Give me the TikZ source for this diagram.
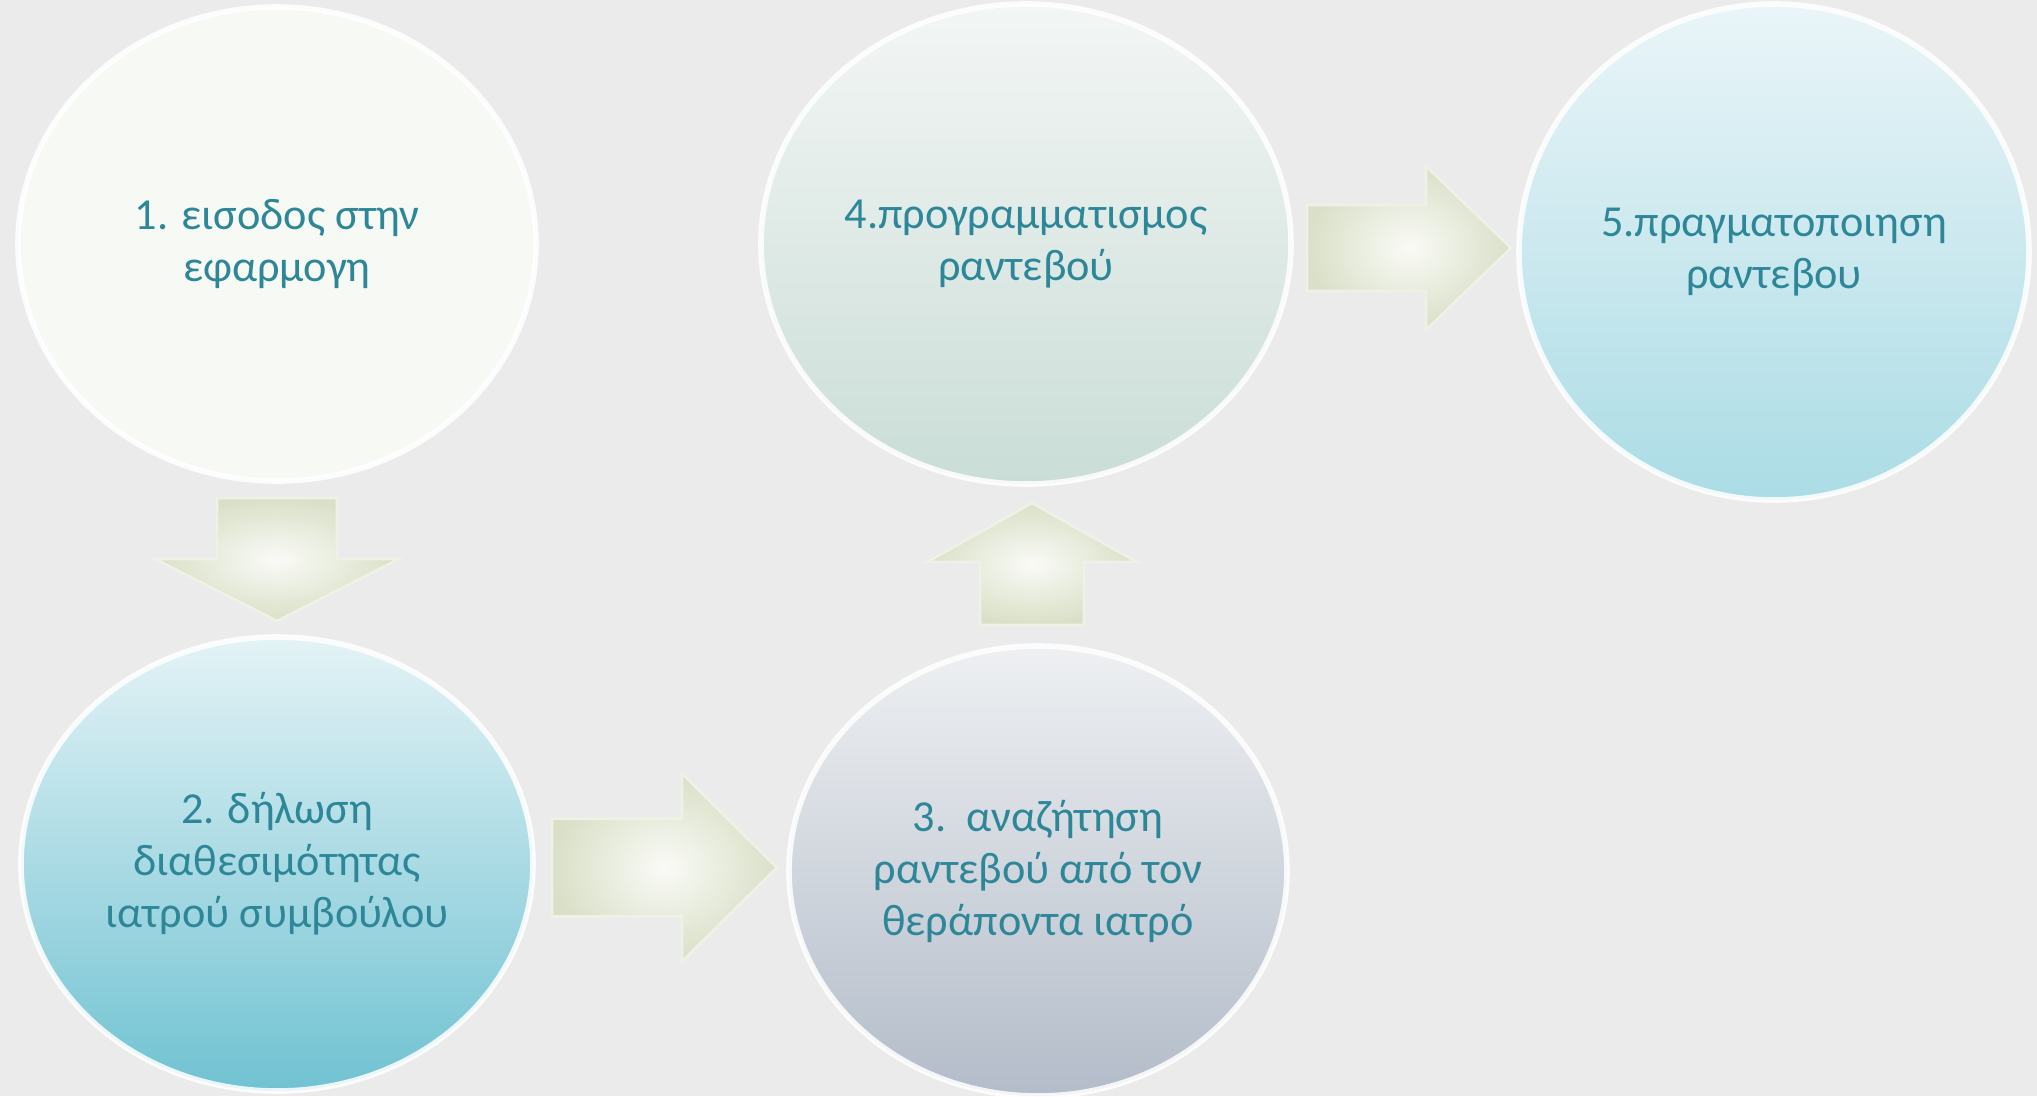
\documentclass[tikz,border=0pt]{standalone}
\usepackage{fontspec}
\setmainfont{Carlito}
\usetikzlibrary{shapes.geometric,calc}

\definecolor{bgcol}{HTML}{EBEBEB}
\definecolor{txtcol}{HTML}{2E8799}
\definecolor{arrowgreen}{HTML}{D9E0C7}
\definecolor{stepone}{HTML}{F7F9F4}
\definecolor{steptwotop}{HTML}{E4F3F6}
\definecolor{steptwobot}{HTML}{70C2D2}
\definecolor{stepthreetop}{HTML}{EEF0F2}
\definecolor{stepthreebot}{HTML}{B3BCC9}
\definecolor{stepfourtop}{HTML}{F3F6F4}
\definecolor{stepfourbot}{HTML}{CADDD7}
\definecolor{stepfivetop}{HTML}{EAF5F8}
\definecolor{stepfivebot}{HTML}{ABDCE5}

\tikzset{
  stepcircle/.style={ellipse, inner sep=0pt, outer sep=0pt, align=center,
    text=txtcol, font=\fontsize{12.6}{14.8}\selectfont,
    draw=white, line width=1.6pt, draw opacity=0.85},
  arrowbody/.style={inner color=white!85!arrowgreen, outer color=arrowgreen,
    draw=white!55!arrowgreen, line width=0.8pt, line join=miter}
}

\begin{document}
\begin{tikzpicture}
\useasboundingbox (0,0) rectangle (20.37,-10.96);
\fill[bgcol] (0,0) rectangle (20.37,-10.96);

\node[stepcircle, minimum width=5.18cm, minimum height=4.74cm, fill=stepone]
  (s1) at (2.77,-2.44) {1. εισοδος στην\\εφαρμογη};
\node[stepcircle, minimum width=5.12cm, minimum height=4.54cm, top color=steptwotop, bottom color=steptwobot]
  (s2) at (2.77,-8.64) {2. δήλωση\\διαθεσιμότητας\\ιατρού συμβούλου};
\node[stepcircle, minimum width=4.98cm, minimum height=4.50cm, top color=stepthreetop, bottom color=stepthreebot]
  (s3) at (10.38,-8.71) {3.\ \ αναζήτηση\\ραντεβού από τον\\θεράποντα ιατρό};
\node[stepcircle, minimum width=5.30cm, minimum height=4.80cm, top color=stepfourtop, bottom color=stepfourbot]
  (s4) at (10.26,-2.44) {4.προγραμματισμος\\ραντεβού};
\node[stepcircle, minimum width=5.10cm, minimum height=4.96cm, top color=stepfivetop, bottom color=stepfivebot]
  (s5) at (17.74,-2.52) {5.πραγματοποιηση\\ραντεβου};

\coordinate (m12) at ($(s1.south)!0.5!(s2.north)$);
\coordinate (m23) at ($(s2.east)!0.5!(s3.west)$);
\coordinate (m34) at ($(s3.north)!0.5!(s4.south)$);
\coordinate (m45) at ($(s4.east)!0.5!(s5.west)$);

% block arrows between the steps
\shadedraw[arrowbody, shift={(m12)}, rotate=-90] (-0.61,0.60) -- (0,0.60) -- (0,1.22) -- (0.62,0) -- (0,-1.22) -- (0,-0.60) -- (-0.61,-0.60) -- cycle;
\shadedraw[arrowbody, shift={(m23)}] (-1.09,0.49) -- (0.21,0.49) -- (0.21,0.94) -- (1.16,0) -- (0.21,-0.94) -- (0.21,-0.49) -- (-1.09,-0.49) -- cycle;
\shadedraw[arrowbody, shift={(m34)}, rotate=90] (-0.60,0.52) -- (0.03,0.52) -- (0.03,1.05) -- (0.62,0) -- (0.03,-1.05) -- (0.03,-0.52) -- (-0.60,-0.52) -- cycle;
\shadedraw[arrowbody, shift={(m45)}] (-0.98,0.43) -- (0.21,0.43) -- (0.21,0.82) -- (1.06,0) -- (0.21,-0.82) -- (0.21,-0.43) -- (-0.98,-0.43) -- cycle;

\end{tikzpicture}
\end{document}
